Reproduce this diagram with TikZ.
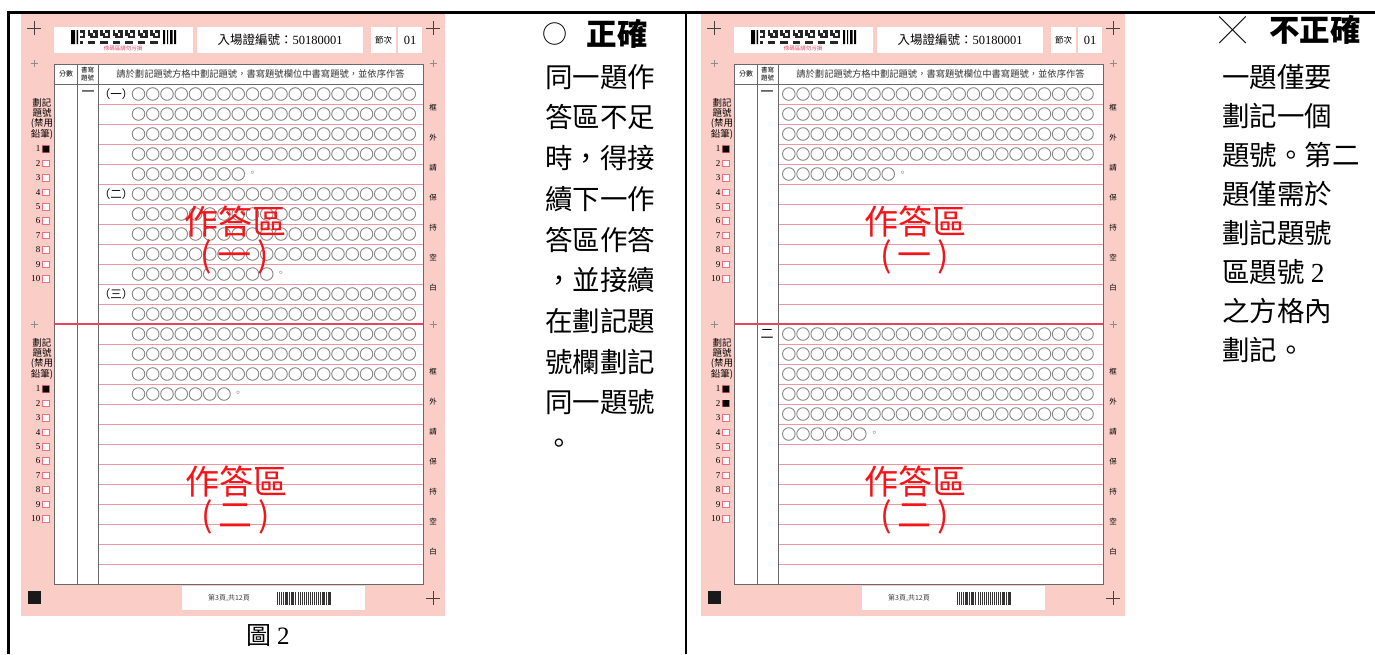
\documentclass[tikz,border=0pt]{standalone}
\usepackage{fontspec}
\setmainfont{Liberation Serif}
\newfontfamily\cjk{Noto Sans CJK TC}
\usetikzlibrary{positioning}

\definecolor{sheetpink}{RGB}{250,206,199}
\definecolor{rowred}{RGB}{238,150,162}
\definecolor{cutred}{RGB}{228,70,95}
\definecolor{bubblegray}{RGB}{135,135,135}
\definecolor{gridgray}{RGB}{105,105,105}
\definecolor{boxpink}{RGB}{240,110,130}
\definecolor{zonered}{RGB}{245,20,25}

\tikzset{
  bubble/.style={draw=bubblegray, line width=0.9pt},
  cross/.style={draw=black!75, line width=1pt},
  smallcross/.style={draw=black!45, line width=0.5pt},
  tiny/.style={inner sep=0pt, font=\cjk\fontsize{7}{8}\selectfont},
  numlab/.style={inner sep=0pt, anchor=east, font=\fontsize{9}{10}\selectfont},
  zone/.style={inner sep=0pt, text=zonered, font=\cjk\fontsize{34}{36}\selectfont},
  remark/.style={anchor=west, inner sep=0pt, text height=22pt, text depth=3.5pt,
    font=\cjk\fontsize{27.5}{30}\selectfont},
  title/.style={inner sep=0pt, font=\cjk\bfseries\fontsize{30.5}{32}\selectfont},
}

\begin{document}
\begin{tikzpicture}[x=1pt,y=-1pt]
\useasboundingbox (0,0) rectangle (1375,654);
% 外框
\draw[line width=3pt] (8,654) -- (8,12) -- (1375,12);
\draw[line width=2.5pt] (686,12) -- (686,654);

% 兩張答題卷共同的底
\foreach \dx in {0,680}{
\begin{scope}[xshift=\dx pt]
  \fill[sheetpink] (21,14) rectangle (445,616);
  % 條碼區、入場證、節次
  \fill[white] (54,27) rectangle (193,53);
  \fill[white] (197,27) rectangle (363,53);
  \fill[white] (371,27) rectangle (396,53);
  \fill[white] (398,27) rectangle (422,53);
  \fill (71,30) rectangle (75,44) (76.5,30) rectangle (78,44);
  \foreach \i in {0,...,31}
    \foreach \j in {0,...,4}{
      \pgfmathtruncatemacro\bit{mod(\i*7+\j*13+\i*\j,5)<3}
      \ifnum\bit=1 \fill[black!85] ({80+2.5*\i},{30+2.8*\j}) rectangle ++(2.5,2.8); \fi
    }
  \fill (163,30) rectangle (165,44) (167,30) rectangle (168,44)
        (170,30) rectangle (172.5,44) (174,30) rectangle (176,44);
  \node[tiny, text=cutred, font=\cjk\fontsize{5.5}{6}\selectfont] (bcnote\dx) at (123,48.5) {條碼區請勿污損};
  \node[inner sep=0pt, font=\cjk\fontsize{12.5}{14}\selectfont] (admit\dx) at (280,40) {入場證編號：{\rmfamily 50180001}};
  \node[tiny, font=\cjk\fontsize{8.5}{9}\selectfont] (sess\dx) at (383.5,40) {節次};
  \node[inner sep=0pt, font=\fontsize{12.5}{14}\selectfont] (sessno\dx) at (410,40) {01};

  % 十字記號
  \foreach \p in {(34,28),(433,28),(433,598)}
    \draw[cross] \p +(-7,0) -- +(7,0) +(0,-7) -- +(0,7);
  \foreach \p in {(34,63),(433,63),(34,324),(433,324)}
    \draw[smallcross] \p +(-3.5,0) -- +(3.5,0) +(0,-3.5) -- +(0,3.5);

  % 作答表格
  \fill[white] (54,64) rectangle (423,584);
  \foreach \k in {1,...,24}
    \draw[rowred, line width=0.7pt] (98,{84+20*\k}) -- (423,{84+20*\k});
  \draw[gridgray, line width=0.8pt] (54,64) rectangle (423,584)
    (54,84) -- (423,84) (77,64) -- (77,584) (98,64) -- (98,584);
  \draw[cutred, line width=1.4pt] (54,324) -- (423,324);
  \node[tiny] (score\dx) at (66,74) {分數};
  \node[tiny, align=center, font=\cjk\fontsize{6.5}{7.5}\selectfont] (qno\dx) at (87.5,74) {書寫\\題號};
  \node[inner sep=0pt, text=black!80, font=\cjk\fontsize{9.3}{10}\selectfont] (guide\dx) at (260.5,74)
    {請於劃記題號方格中劃記題號，書寫題號欄位中書寫題號，並依序作答};

  % 劃記題號欄
  \foreach \y in {119,359}{
    \node[inner sep=0pt, align=center, font=\cjk\fontsize{9.5}{9.8}\selectfont] (mark\y-\dx) at (42,\y)
      {劃記\\題號\\(禁用\\鉛筆)};
  }
  \foreach \n in {1,...,10}{
    \node[numlab] (numA\n-\dx) at (40.5,{149+14.4*(\n-1)}) {\n};
    \draw[boxpink, fill=white, line width=0.6pt] (42.5,{149+14.4*(\n-1)-3.25}) rectangle ++(6.5,6.5);
    \node[numlab] (numB\n-\dx) at (40.5,{389+14.4*(\n-1)}) {\n};
    \draw[boxpink, fill=white, line width=0.6pt] (42.5,{389+14.4*(\n-1)-3.25}) rectangle ++(6.5,6.5);
  }
  % 框外請保持空白
  \foreach \c [count=\k] in {框,外,請,保,持,空,白}{
    \node[tiny, font=\cjk\fontsize{7.5}{8}\selectfont] (sideA\k-\dx) at (433,{108+30*(\k-1)}) {\c};
    \node[tiny, font=\cjk\fontsize{7.5}{8}\selectfont] (sideB\k-\dx) at (433,{372+30*(\k-1)}) {\c};
  }

  % 頁尾
  \fill[black!90] (28,591) rectangle (41,604);
  \fill[white] (182,586) rectangle (365,610);
  \node[tiny, text=black!75] (page\dx) at (229,598) {第3頁,共12頁};
  \foreach \k in {0,...,26}{
    \pgfmathsetmacro\bw{0.5+0.45*mod(\k*5,3)}
    \fill[black!80] ({277+2.05*\k},592) rectangle ++(\bw,13);
  }
\end{scope}
}

% 左卷：同一題接續下一作答區
\node[inner sep=0pt, font=\cjk\fontsize{13}{14}\selectfont] (qoneL) at (88,94) {一};
\foreach \r/\t in {1/一,6/二,11/三}
  \node[inner sep=0pt, font=\cjk\fontsize{11.5}{12}\selectfont] (secL\r) at (116,{74+20*\r}) {（\t）};
\foreach \r/\n in {1/20,2/20,3/20,4/20,5/8,6/20,7/20,8/20,9/20,10/10,11/20,12/20,13/20,14/20,15/20,16/7}
  \foreach \c in {1,...,\n}
    \draw[bubble] ({138.5+14.25*(\c-1)},{74+20*\r}) circle (6.3pt);
\foreach \r/\n in {5/8,10/10,16/7}
  \node[inner sep=0pt, text=bubblegray, font=\cjk\fontsize{10}{11}\selectfont] (dotL\r) at ({138.5+14.25*(\n-1)+14},{74+20*\r}) {。};
\fill (42.5,{149-3.25}) rectangle ++(6.5,6.5) (42.5,{389-3.25}) rectangle ++(6.5,6.5);
\node[zone] (zoneL1) at (235,221) {作答區};
\node[zone, below=3pt of zoneL1] (zoneL1n) {(\,一\,)};
\node[zone] (zoneL2) at (236,481) {作答區};
\node[zone, below=3pt of zoneL2] (zoneL2n) {(\,二\,)};
\node[inner sep=0pt, font=\cjk\fontsize{25}{27}\selectfont] (figcap) at (268,635) {圖 {\rmfamily 2}};

% 右卷：第二題另起一區
\node[inner sep=0pt, font=\cjk\fontsize{13}{14}\selectfont] (qoneR) at (767,94) {一};
\node[inner sep=0pt, font=\cjk\fontsize{13}{14}\selectfont] (qtwoR) at (767,334) {二};
\foreach \r/\n in {1/22,2/22,3/22,4/22,5/8,13/22,14/22,15/22,16/22,17/22,18/6}
  \foreach \c in {1,...,\n}
    \draw[bubble] ({788.8+14.2*(\c-1)},{74+20*\r}) circle (6.3pt);
\foreach \r/\n in {5/8,18/6}
  \node[inner sep=0pt, text=bubblegray, font=\cjk\fontsize{10}{11}\selectfont] (dotR\r) at ({788.8+14.2*(\n-1)+14.5},{74+20*\r}) {。};
\fill (722.5,{149-3.25}) rectangle ++(6.5,6.5) (722.5,{389-3.25}) rectangle ++(6.5,6.5)
      (722.5,{403.4-3.25}) rectangle ++(6.5,6.5);
\node[zone] (zoneR1) at (915,221) {作答區};
\node[zone, below=3pt of zoneR1] (zoneR1n) {(\,一\,)};
\node[zone] (zoneR2) at (915,481) {作答區};
\node[zone, below=3pt of zoneR2] (zoneR2n) {(\,二\,)};

% 說明文字
\node[inner sep=0pt, font=\cjk\fontsize{25}{27}\selectfont] (okmark) at (555,34) {○};
\node[title, right=19pt of okmark] (oktitle) {正確};
\foreach \t [count=\k] in {同一題作,答區不足,時，得接,續下一作,答區作答,，並接續,在劃記題,號欄劃記,同一題號,。}
  \node[remark] (okline\k) at (545,{78+40.7*(\k-1)}) {\t};

\node[inner sep=0pt, font=\cjk\fontsize{27}{29}\selectfont] (nomark) at (1233,30) {╳};
\node[title] (notitle) at (1315,30) {不正確};
\foreach \t [count=\k] in {一題僅要,劃記一個,題號。第二,題僅需於,劃記題號,{區題號 {\rmfamily 2}},之方格內,劃記。}
  \node[remark] (noline\k) at (1222,{78+39*(\k-1)}) {\t};
\end{tikzpicture}
\end{document}
